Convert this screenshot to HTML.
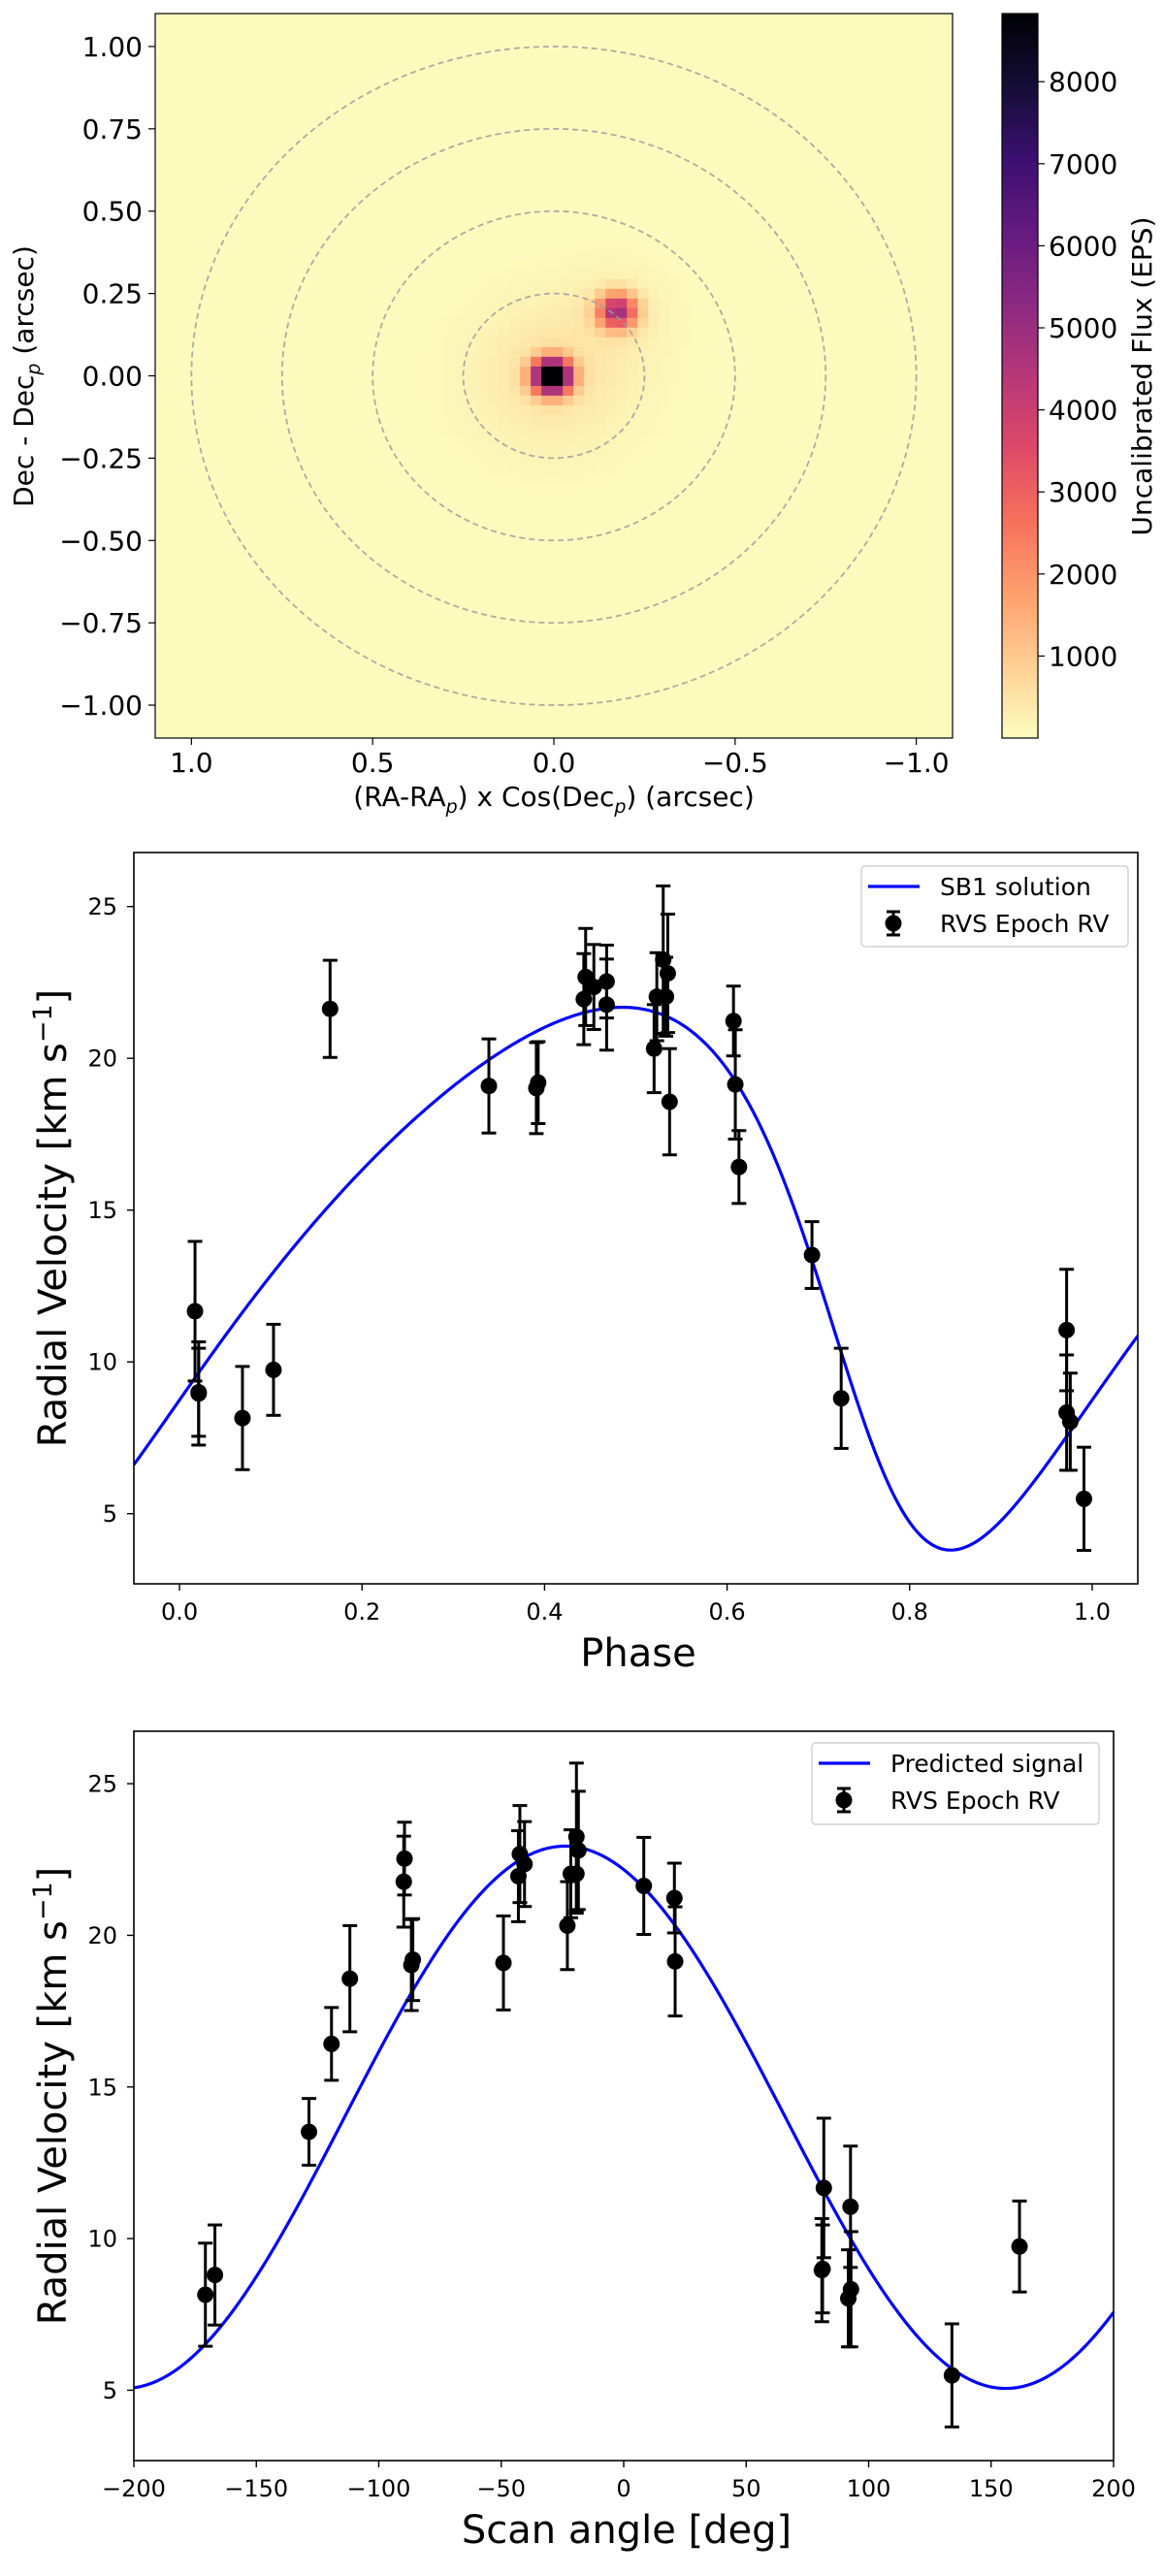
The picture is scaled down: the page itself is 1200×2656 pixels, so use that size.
<!DOCTYPE html>
<html><head><meta charset="utf-8"><style>
html,body{margin:0;padding:0;background:#fff;}
svg{display:block;font-family:"DejaVu Sans","Liberation Sans",sans-serif;}
</style></head><body>
<svg id="fig" xmlns="http://www.w3.org/2000/svg" width="1200" height="2656" viewBox="0 0 1200 2656">
<defs>
<linearGradient id="cbgrad" x1="0" y1="1" x2="0" y2="0">
<stop offset="0" stop-color="#fcfdbf"/><stop offset="0.1" stop-color="#fecf92"/><stop offset="0.2" stop-color="#fe9f6d"/><stop offset="0.3" stop-color="#f7705c"/><stop offset="0.4" stop-color="#de4968"/><stop offset="0.5" stop-color="#b73779"/><stop offset="0.6" stop-color="#8c2981"/><stop offset="0.7" stop-color="#641a80"/><stop offset="0.8" stop-color="#3b0f70"/><stop offset="0.9" stop-color="#140e36"/><stop offset="1" stop-color="#000004"/>
</linearGradient>
<clipPath id="clipTop"><rect x="160" y="14" width="822" height="747"/></clipPath>
<clipPath id="clipMid"><rect x="138" y="879" width="1035" height="754"/></clipPath>
<clipPath id="clipBot"><rect x="138" y="1785" width="1010" height="752"/></clipPath>
</defs>
<g id="top"></g>
<g id="mid"></g>
<g id="bot"></g>
</svg>
<script>
// ---------- data ----------
const srcX = [0.006, -0.174];
const srcY = [0.0, 0.197];
const srcAmp = [10000, 4700];
const srcSigma = [0.035, 0.036];
const haloAmp = [480, 220];
const haloSigma = [0.16, 0.11];
const circleRadii = [0.25, 0.5, 0.75, 1.0];
const imgTicks = [1.0, 0.75, 0.5, 0.25, 0.0, -0.25, -0.5, -0.75, -1.0];
const imgTickLabels = ["1.00","0.75","0.50","0.25","0.00","\u22120.25","\u22120.50","\u22120.75","\u22121.00"];
const imgXTicks = [1.0, 0.5, 0.0, -0.5, -1.0];
const imgXTickLabels = ["1.0","0.5","0.0","\u22120.5","\u22121.0"];
const cbTicks = [1000,2000,3000,4000,5000,6000,7000,8000];

const phase = [0.017,0.021,0.021,0.069,0.103,0.165,0.339,0.391,0.393,0.443,0.445,0.454,0.468,0.468,0.520,0.523,0.530,0.533,0.535,0.537,0.607,0.609,0.613,0.693,0.725,0.972,0.972,0.976,0.991];
const scanAngle = [81.7,80.9,81.2,-170.8,161.6,8.2,-49.1,-86.7,-86.1,-43.0,-42.4,-40.5,-89.5,-89.8,-23.0,-21.6,-19.3,-19.3,-18.5,-111.8,20.7,21.0,-119.3,-128.5,-166.9,92.6,92.8,91.7,134.0];
const rv = [11.67,8.96,9.0,8.15,9.74,21.63,19.09,19.02,19.2,21.95,22.68,22.35,22.53,21.77,20.32,22.03,23.25,22.03,22.8,18.57,21.23,19.14,16.42,13.52,8.8,11.05,8.33,8.03,5.49];
const rvErr = [2.3,1.7,1.45,1.7,1.5,1.6,1.55,1.5,1.35,1.5,1.6,1.4,1.2,1.5,1.45,1.45,2.43,1.3,1.95,1.75,1.15,1.8,1.2,1.1,1.65,2.0,1.9,1.6,1.7];
// SB1 orbit: gamma, K, e, omega(deg), periastron phase
const sb1Params = [14.15, 8.94, 0.27, 125.7, 0.756];
// Predicted signal: offset, amplitude, angle of max (deg)
const predParams = [14.0, 8.94, -24.0];
const rvTicks = [5,10,15,20,25];
const phaseTicks = [0.0,0.2,0.4,0.6,0.8,1.0];
const angleTicks = [-200,-150,-100,-50,0,50,100,150,200];

// ---------- helpers ----------
const NS = "http://www.w3.org/2000/svg";
function mk(tag, attrs, parent, text){
  const el = document.createElementNS(NS, tag);
  for (const k in attrs) el.setAttribute(k, attrs[k]);
  if (text !== undefined) el.textContent = text;
  parent.appendChild(el);
  return el;
}
function lin(d0,d1,p0,p1){ return v => p0 + (v-d0)/(d1-d0)*(p1-p0); }
const magma = ["#fcfdbf","#fecf92","#fe9f6d","#f7705c","#de4968","#b73779","#8c2981","#641a80","#3b0f70","#140e36","#000004"];
function hex2rgb(h){return [parseInt(h.substr(1,2),16),parseInt(h.substr(3,2),16),parseInt(h.substr(5,2),16)];}
const magmaRGB = magma.map(hex2rgb);
function cmap(t){
  t = Math.max(0, Math.min(1, t));
  const f = t*10, i = Math.min(9, Math.floor(f)), r = f-i;
  const a = magmaRGB[i], b = magmaRGB[i+1];
  return "rgb(" + [0,1,2].map(k => Math.round(a[k]+(b[k]-a[k])*r)).join(",") + ")";
}

// ---------- top panel ----------
(function(){
  const g = document.getElementById('top');
  const X = lin(1.1, -1.1, 160, 982), Y = lin(1.1, -1.1, 14, 761);
  const vmax = 8830;
  const img = mk('g', {'clip-path':'url(#clipTop)'}, g);
  
  
  mk('rect', {x:160,y:14,width:822,height:747,fill:cmap(0.005)}, img);
  const cell = 0.0295;
  const frag = document.createDocumentFragment();
  for (let i = -38; i < 38; i++) {
    for (let j = -38; j < 38; j++) {
      const x0 = 0.006 + i*cell, y0 = j*cell;
      const cx = x0 + cell/2, cy = y0 + cell/2;
      let v = 25;
      for (let s = 0; s < srcX.length; s++) {
        const d2 = (cx-srcX[s])**2 + (cy-srcY[s])**2;
        v += srcAmp[s]*Math.exp(-d2/(2*srcSigma[s]**2)) + haloAmp[s]*Math.exp(-d2/(2*haloSigma[s]**2));
      }
      if (v < 60) continue;
      const xa = X(x0+cell), xb = X(x0), ya = Y(y0+cell), yb = Y(y0);
      const r = document.createElementNS(NS, 'rect');
      r.setAttribute('x', xa.toFixed(2)); r.setAttribute('y', ya.toFixed(2));
      r.setAttribute('width', (xb-xa+0.4).toFixed(2)); r.setAttribute('height', (yb-ya+0.4).toFixed(2));
      r.setAttribute('fill', cmap(v/vmax));
      
      
      frag.appendChild(r);
    }
  }
  img.appendChild(frag);
  circleRadii.forEach(rr => {
    const c = mk('ellipse', {cx:X(0), cy:Y(0), rx:X(0)-X(rr), ry:Y(-rr)-Y(0), fill:'none', stroke:'#9e9e9e', 'stroke-opacity':0.85, 'stroke-width':1.8, 'stroke-dasharray':'6,4'}, img);
    
    
  });
  mk('rect', {x:160,y:14,width:822,height:747,fill:'none',stroke:'#000','stroke-width':1.2}, g);
  imgTicks.forEach((t,k) => {
    mk('line', {x1:153,x2:160,y1:Y(t),y2:Y(t),stroke:'#000','stroke-width':1.2}, g);
    const tx = mk('text', {x:147,y:Y(t)+10,'text-anchor':'end','font-size':28}, g, imgTickLabels[k]);
    
    
  });
  imgXTicks.forEach((t,k) => {
    mk('line', {x1:X(t),x2:X(t),y1:761,y2:768,stroke:'#000','stroke-width':1.2}, g);
    const tx = mk('text', {x:X(t),y:796,'text-anchor':'middle','font-size':28}, g, imgXTickLabels[k]);
    
    
  });
  const xl = mk('text', {x:571,y:831,'text-anchor':'middle','font-size':28}, g);
  xl.innerHTML = '(RA-RA<tspan font-size="19" dy="7" font-style="italic">p</tspan><tspan dy="-7">) x Cos(Dec</tspan><tspan font-size="19" dy="7" font-style="italic">p</tspan><tspan dy="-7">) (arcsec)</tspan>';
  
  
  const yl = mk('text', {x:0,y:0,'text-anchor':'middle','font-size':28,transform:'translate(34,388) rotate(-90)'}, g);
  yl.innerHTML = 'Dec - Dec<tspan font-size="19" dy="7" font-style="italic">p</tspan><tspan dy="-7"> (arcsec)</tspan>';
  
  
  // colorbar
  const CY = lin(0, 8830, 761, 14);
  const cb = mk('rect', {x:1033,y:14,width:37,height:747,fill:'url(#cbgrad)',stroke:'#000','stroke-width':1.2}, g);
  
  
  cbTicks.forEach(t => {
    mk('line', {x1:1070,x2:1077,y1:CY(t),y2:CY(t),stroke:'#000','stroke-width':1.2}, g);
    const tx = mk('text', {x:1081,y:CY(t)+10,'font-size':28}, g, String(t));
    
    
  });
  const cl = mk('text', {x:0,y:0,'text-anchor':'middle','font-size':28,transform:'translate(1187,388) rotate(-90)'}, g, 'Uncalibrated Flux (EPS)');
  
  
})();

// ---------- RV panels ----------
function keplerRV(ph){
  const [gam, K, e, omDeg, tp] = sb1Params;
  const om = omDeg*Math.PI/180;
  let M = 2*Math.PI*(ph - tp);
  M = ((M % (2*Math.PI)) + 2*Math.PI) % (2*Math.PI);
  let E = M;
  for (let i = 0; i < 30; i++) E = E - (E - e*Math.sin(E) - M)/(1 - e*Math.cos(E));
  const nu = 2*Math.atan2(Math.sqrt(1+e)*Math.sin(E/2), Math.sqrt(1-e)*Math.cos(E/2));
  return gam + K*(Math.cos(nu+om) + e*Math.cos(om));
}
function predRV(a){ return predParams[0] + predParams[1]*Math.cos((a - predParams[2])*Math.PI/180); }

function rvPanel(gid, box, xlim, ylim, xs, xticks, xtickFmt, xlabel, xlabelPos, curveFn, legendBox, legendText, clip){
  const g = document.getElementById(gid);
  const [L,T,R,B] = box;
  const X = lin(xlim[0], xlim[1], L, R), Y = lin(ylim[0], ylim[1], B, T);
  const plot = mk('g', {'clip-path':clip}, g);
  let d = '';
  for (let i = 0; i <= 600; i++) {
    const xv = xlim[0] + (xlim[1]-xlim[0])*i/600;
    d += (i ? 'L' : 'M') + X(xv).toFixed(2) + ',' + Y(curveFn(xv)).toFixed(2);
  }
  const cp = mk('path', {d:d, fill:'none', stroke:'#0000ff', 'stroke-width':3.2}, plot);
  
  
  xs.forEach((xv, i) => {
    const pg = mk('g', {}, plot);
    
    
    const px = X(xv), y1 = Y(rv[i]+rvErr[i]), y2 = Y(rv[i]-rvErr[i]);
    mk('line', {x1:px,x2:px,y1:y1,y2:y2,stroke:'#000','stroke-width':3}, pg);
    mk('line', {x1:px-7.5,x2:px+7.5,y1:y1,y2:y1,stroke:'#000','stroke-width':3}, pg);
    mk('line', {x1:px-7.5,x2:px+7.5,y1:y2,y2:y2,stroke:'#000','stroke-width':3}, pg);
    mk('circle', {cx:px, cy:Y(rv[i]), r:8.5, fill:'#000'}, pg);
  });
  mk('rect', {x:L,y:T,width:R-L,height:B-T,fill:'none',stroke:'#000','stroke-width':1.6}, g);
  rvTicks.forEach(t => {
    mk('line', {x1:L-7,x2:L,y1:Y(t),y2:Y(t),stroke:'#000','stroke-width':1.4}, g);
    const tx = mk('text', {x:L-17,y:Y(t)+8.5,'text-anchor':'end','font-size':24}, g, String(t));
    
    
  });
  xticks.forEach(t => {
    mk('line', {x1:X(t),x2:X(t),y1:B,y2:B+7,stroke:'#000','stroke-width':1.4}, g);
    const tx = mk('text', {x:X(t),y:B+37,'text-anchor':'middle','font-size':24}, g, xtickFmt(t));
    
    
  });
  const xl = mk('text', {x:xlabelPos[0],y:xlabelPos[1],'text-anchor':'middle','font-size':40}, g, xlabel);
  
  
  const yl = mk('text', {x:0,y:0,'text-anchor':'middle','font-size':40,transform:'translate(68,'+((T+B)/2)+') rotate(-90)'}, g);
  yl.innerHTML = 'Radial Velocity [km s<tspan font-size="27" dy="-15">\u22121</tspan><tspan dy="15">]</tspan>';
  
  
  const [lx, ly, lw, lh] = legendBox;
  const lg = mk('g', {}, g);
  
  
  mk('rect', {x:lx,y:ly,width:lw,height:lh,rx:4,fill:'#fff','fill-opacity':0.8,stroke:'#d0d0d0','stroke-width':1.4}, lg);
  const r1 = ly + 21, r2 = ly + 59;
  mk('line', {x1:lx+7,x2:lx+60,y1:r1,y2:r1,stroke:'#0000ff','stroke-width':3.2}, lg);
  mk('text', {x:lx+81,y:r1+9,'font-size':25}, lg, legendText);
  const mx = lx + 33;
  mk('line', {x1:mx,x2:mx,y1:r2-12,y2:r2+12,stroke:'#000','stroke-width':3}, lg);
  mk('line', {x1:mx-7,x2:mx+7,y1:r2-12,y2:r2-12,stroke:'#000','stroke-width':3}, lg);
  mk('line', {x1:mx-7,x2:mx+7,y1:r2+12,y2:r2+12,stroke:'#000','stroke-width':3}, lg);
  mk('circle', {cx:mx,cy:r2,r:8.5,fill:'#000'}, lg);
  mk('text', {x:lx+81,y:r2+9,'font-size':25}, lg, 'RVS Epoch RV');
}

rvPanel('mid', [138,879,1173,1633], [-0.05,1.05], [2.69,26.78], phase, phaseTicks,
  t => t.toFixed(1), 'Phase', [658,1718], keplerRV, [888,893,275,83], 'SB1 solution', 'url(#clipMid)');
rvPanel('bot', [138,1785,1148,2537], [-200,200], [2.68,26.73], scanAngle, angleTicks,
  t => (t < 0 ? '\u2212' + (-t) : String(t)), 'Scan angle [deg]', [646,2622], predRV, [837,1797,296,84], 'Predicted signal', 'url(#clipBot)');
</script>
</body></html>
